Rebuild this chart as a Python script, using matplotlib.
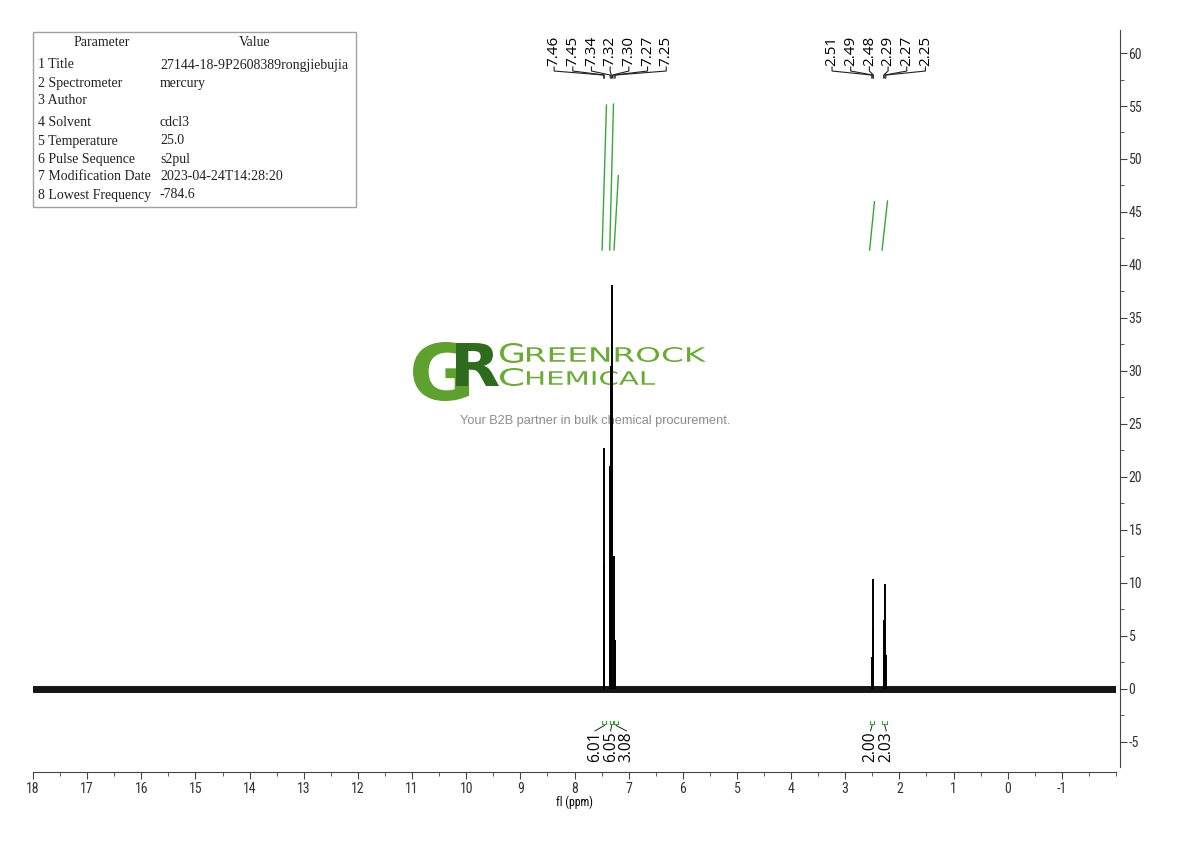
import numpy as np
import matplotlib.pyplot as plt
from matplotlib.textpath import TextPath
from matplotlib.patches import PathPatch, Rectangle
from matplotlib.font_manager import FontProperties
from matplotlib.transforms import Affine2D
from matplotlib.ticker import MultipleLocator

plt.rcParams['font.family'] = ['Open Sans', 'DejaVu Sans']

# peak list (ppm, intensity)
peak_ppm = [7.46, 7.45, 7.34, 7.32, 7.30, 7.27, 7.25, 2.51, 2.49, 2.48, 2.29, 2.27, 2.25]
peak_height = [11.7, 22.7, 21.0, 30.5, 38.1, 12.5, 4.6, 3.0, 10.4, 5.8, 6.5, 9.9, 3.2]

# integrals (from ppm, to ppm, value)
int_start = [7.49, 7.35, 7.27, 2.55, 2.32]
int_end = [7.41, 7.28, 7.19, 2.46, 2.22]
int_value = [6.01, 6.05, 3.08, 2.00, 2.03]

param_names = ['1 Title', '2 Spectrometer', '3 Author', '4 Solvent', '5 Temperature',
               '6 Pulse Sequence', '7 Modification Date', '8 Lowest Frequency']
param_values = ['27144-18-9P2608389rongjiebujia', 'mercury', '', 'cdcl3', '25.0',
                's2pul', '2023-04-24T14:28:20', '-784.6']

x_ticks = list(range(18, -2, -1))
y_ticks = list(range(-5, 65, 5))

W, H = 1190, 841
narrow = ['Liberation Sans Narrow', 'DejaVu Sans Condensed', 'Roboto Condensed', 'DejaVu Sans']


def fpos(x, y):
    # pixel position -> figure fraction
    return x / W, 1 - y / H


def groups_of(vals, gap=1.0):
    out, cur = [], [0]
    for i in range(1, len(vals)):
        if abs(vals[i] - vals[i - 1]) > gap:
            out.append(cur)
            cur = []
        cur.append(i)
    out.append(cur)
    return out


fig = plt.figure(figsize=(W / 100, H / 100), dpi=100)
ax = fig.add_axes([33 / W, 1 - 767 / H, (1116 - 33) / W, (767 - 30) / H])
ax.patch.set_alpha(0)
ax.set_xlim(18, -2)
ax.set_ylim(-7.36, 62.17)

# watermark
def fit_text(s, x0, y0, x1, y1, color, weight='normal'):
    tp = TextPath((0, 0), s, size=100, prop=FontProperties(family='DejaVu Sans', weight=weight))
    ext = tp.get_extents()
    tr = (Affine2D().translate(-ext.x0, -ext.y0)
          .scale((x1 - x0) / ext.width, (y1 - y0) / ext.height)
          .translate(x0, H - y1))
    p = PathPatch(tp, facecolor=color, lw=0, transform=tr, zorder=-1)
    fig.add_artist(p)

fit_text('G', 413, 342, 469, 401, '#5fa12e', 'bold')
fit_text('R', 456, 343, 499, 386, '#2f6b1e', 'bold')
fit_text('G', 500, 343, 523, 363, '#6aaa35')
fit_text('REENROCK', 527, 347, 706, 362, '#6aaa35')
fit_text('C', 500, 368, 523, 386, '#6aaa35')
fit_text('HEMICAL', 527, 371, 655, 385, '#6aaa35')
fig.text(*fpos(595, 421), 'Your B2B partner in bulk chemical procurement.', ha='center', va='center',
         fontsize=9.2, color='#8c8c8c', family=['Liberation Sans', 'DejaVu Sans'], zorder=-1)

# spectrum: baseline band + peak lines
ax.axhline(0, color='#151515', lw=5, zorder=2)
ax.vlines(peak_ppm, 0, peak_height, color='black', lw=1.4, zorder=3)

# peak labels with brackets
sp = 0.345
for g in groups_of(peak_ppm):
    center = np.mean([peak_ppm[i] for i in g])
    n = len(g)
    for k, i in enumerate(g):
        lx = center + ((n - 1) / 2 - k) * sp
        ax.text(lx, 58.78, f'{peak_ppm[i]:.2f}', rotation=90, ha='center', va='bottom',
                fontsize=11, clip_on=False)
        ax.plot([lx, lx, peak_ppm[i], peak_ppm[i]], [58.68, 58.30, 57.92, 57.64],
                color='#222222', lw=0.8, clip_on=False)

# integral curves
base, scale = 41.42, 2.274
green = '#35a835'
for s, e, v in zip(int_start, int_end, int_value):
    ax.plot([s, e], [base, base + v * scale], color=green, lw=1.0)

# integral labels under the baseline
isp = 0.29
mids = [(s + e) / 2 for s, e in zip(int_start, int_end)]
for g in groups_of(mids):
    center = np.mean([mids[i] for i in g])
    n = len(g)
    for k, i in enumerate(g):
        lx = center + ((n - 1) / 2 - k) * isp
        s, e = int_start[i], int_end[i]
        ax.plot([s, s, e, e], [-3.05, -3.35, -3.35, -3.05], color=green, lw=0.8, clip_on=False)
        ax.plot([lx, mids[i]], [-3.95, -3.45], color='#222222', lw=0.7, clip_on=False)
        ax.text(lx, -4.0, f'{int_value[i]:.2f}', rotation=90, ha='center', va='top',
                fontsize=11.2, clip_on=False)

# axes styling
for side in ['top', 'left']:
    ax.spines[side].set_visible(False)
ax.spines['bottom'].set_position(('outward', 3.6))
ax.spines['right'].set_position(('outward', 3))
for side in ['bottom', 'right']:
    ax.spines[side].set_color('#444444')
ax.yaxis.tick_right()
ax.set_xticks(x_ticks)
ax.set_xticklabels([str(t) for t in x_ticks])
ax.set_yticks(y_ticks)
ax.set_yticklabels([str(t) for t in y_ticks])
ax.xaxis.set_minor_locator(MultipleLocator(0.5))
ax.yaxis.set_minor_locator(MultipleLocator(2.5))
ax.tick_params(axis='both', which='major', length=5, color='#444444', labelsize=10, pad=2,
               labelcolor='#333333')
ax.tick_params(axis='both', which='minor', length=3, color='#444444')
ax.tick_params(axis='y', which='both', right=True, left=False, pad=1)
for lbl in ax.get_xticklabels() + ax.get_yticklabels():
    lbl.set_fontfamily(narrow)
    lbl.set_fontstretch('condensed')
ax.set_xlabel('fl (ppm)', fontsize=8.5, family=narrow, fontstretch='condensed', labelpad=0)

# parameter table
fig.add_artist(Rectangle(fpos(33, 207), 323 / W, 175 / H, transform=fig.transFigure,
                         fill=False, edgecolor='#a0a0a0', lw=1))
tfont = dict(family=['Liberation Serif', 'DejaVu Serif'], fontsize=10, color='#222222', va='center')
fig.text(*fpos(102, 43), 'Parameter', ha='center', **tfont)
fig.text(*fpos(255, 43), 'Value', ha='center', **tfont)
row_y = [65, 83, 101, 123, 141, 159, 177, 195]
for name, val, y in zip(param_names, param_values, row_y):
    fig.text(*fpos(38, y), name, ha='left', **tfont)
    fig.text(*fpos(160, y), val, ha='left', **tfont)

fig.savefig('out.png', dpi=100)
